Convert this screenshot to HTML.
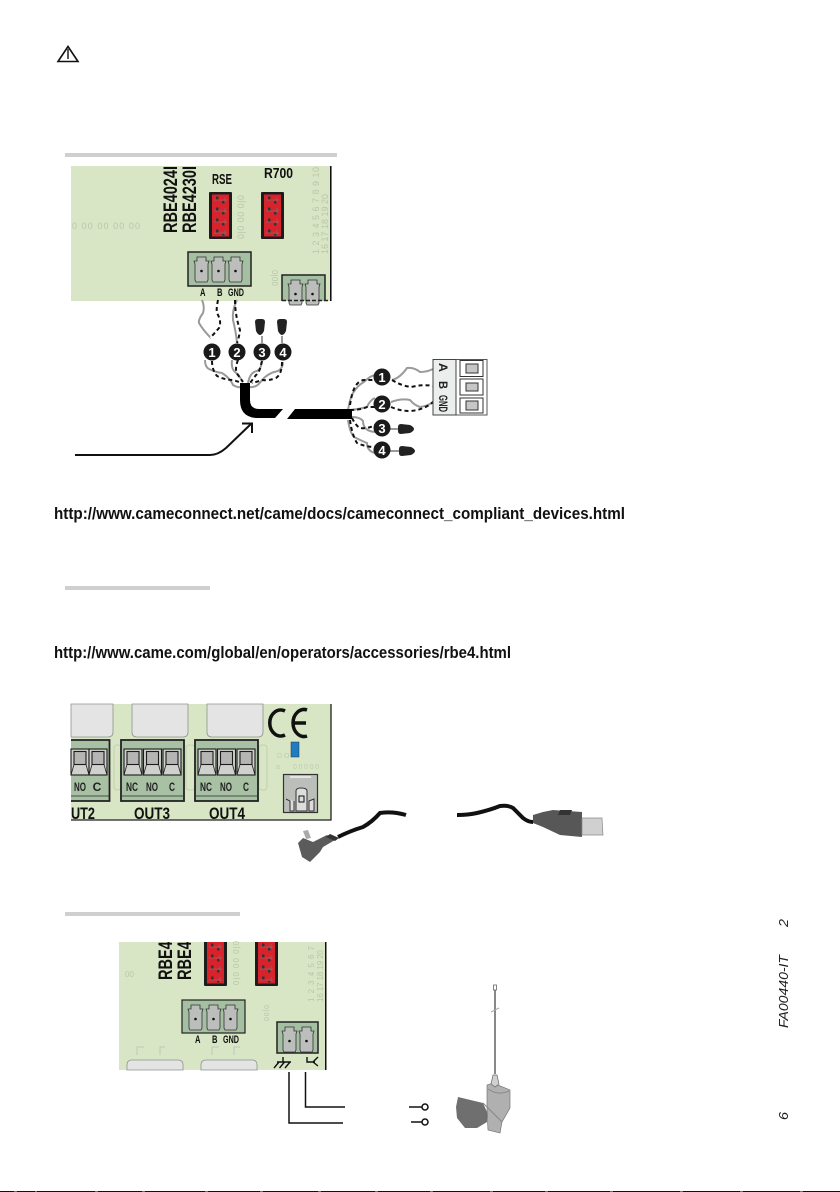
<!DOCTYPE html>
<html><head><meta charset="utf-8"><style>
html,body{margin:0;padding:0;background:#fff}
svg{display:block}
text{font-family:"Liberation Sans",sans-serif}
</style></head><body>
<svg width="840" height="1192" viewBox="0 0 840 1192" xmlns="http://www.w3.org/2000/svg">
<defs>
<clipPath id="c3"><rect x="119" y="942" width="207" height="128"/></clipPath>
<g id="red"><rect x="0" y="0" width="23" height="47" rx="1" fill="#1c1c1c"/><rect x="3" y="2.500" width="17" height="42" fill="#d8222c"/>
<g stroke="#8a6a6a" stroke-width=".7"><path d="M5 8h13M5 19h13M5 30h13M5 41h13M16 5v5M16 16v5M16 27v5M16 38v5"/></g>
<g fill="#333"><rect x="7" y="4.500" width="2.500" height="3"/><rect x="13" y="9" width="2.500" height="2.500"/><rect x="7" y="15.500" width="2.500" height="3"/><rect x="13" y="20" width="2.500" height="2.500"/><rect x="7" y="26.500" width="2.500" height="3"/><rect x="13" y="31" width="2.500" height="2.500"/><rect x="7" y="37.500" width="2.500" height="3"/><rect x="13" y="42" width="2.500" height="1.500"/></g></g>
<g id="pin"><path d="M1 5h3V1h9v4h3l-1 3v16l-1 2H3l-1-2V8z" fill="#bcbebb" stroke="#333" stroke-width=".8"/><circle cx="8.500" cy="15" r="1.300" fill="#111"/></g>
<g id="cell"><rect x="0" y="0" width="18" height="26" fill="#cfd1cc" stroke="#1c1c1c" stroke-width="1.100"/><rect x="3" y="2.500" width="12" height="13" fill="#b5b6b3" stroke="#1c1c1c" stroke-width="1.100"/><path d="M0 26l3-10.500M18 26l-3-10.500" stroke="#222" stroke-width=".8"/></g>
<g id="plug"><path d="M-5 -6 Q-5 -9 -2 -9 H2 Q5 -9 5 -6 L4 3 Q2 7 0 7 Q-2 7 -4 3Z" fill="#222"/></g>
</defs>
<rect width="840" height="1192" fill="#fff"/>

<!-- warning -->
<path d="M68 46.500L58 61.500H78Z" fill="none" stroke="#111" stroke-width="1.600"/><path d="M68 49v10" stroke="#111" stroke-width="1.400"/>

<!-- bars -->
<rect x="65" y="153" width="272" height="4" fill="#cfcfcf"/>
<rect x="65" y="586" width="145" height="4" fill="#cfcfcf"/>
<rect x="65" y="912" width="175" height="4" fill="#cfcfcf"/>

<!-- Board 1 -->
<rect x="71" y="166" width="261" height="135" fill="#d9e6c5"/>
<rect x="330" y="166" width="1.500" height="135" fill="#111"/>
<text transform="translate(177,233) rotate(-90)" font-size="19" font-weight="bold" textLength="67" lengthAdjust="spacingAndGlyphs" fill="#111">RBE4024I</text>
<text transform="translate(196,233) rotate(-90)" font-size="19" font-weight="bold" textLength="67" lengthAdjust="spacingAndGlyphs" fill="#111">RBE4230I</text>
<text x="212" y="184" font-size="15" font-weight="bold" textLength="20" lengthAdjust="spacingAndGlyphs" fill="#111">RSE</text>
<text x="264" y="178" font-size="15" font-weight="bold" textLength="29" lengthAdjust="spacingAndGlyphs" fill="#111">R700</text>
<use href="#red" x="209" y="192"/><use href="#red" x="261" y="192"/>
<g fill="#b8c6aa" font-size="9"><text x="72" y="229" textLength="68" lengthAdjust="spacing">0 00 00 00 00</text>
<text transform="translate(319,254) rotate(-90)" textLength="87">1 2 3 4 5 6 7 8 9 10</text><text transform="translate(328,254) rotate(-90)" textLength="60">16 17 18 19 20</text>
<text transform="translate(244,239) rotate(-90)" textLength="44">0|0 00 0|0</text><text transform="translate(272,270) rotate(90)" font-size="8" textLength="16">0|00</text></g>
<rect x="188" y="252" width="63" height="34" fill="#a5bfa2" stroke="#222" stroke-width="1.500"/>
<use href="#pin" x="193" y="256"/><use href="#pin" x="210" y="256"/><use href="#pin" x="227" y="256"/>
<g font-size="11" font-weight="bold" fill="#111"><text x="200" y="296" textLength="5.500" lengthAdjust="spacingAndGlyphs">A</text><text x="217" y="296" textLength="5.500" lengthAdjust="spacingAndGlyphs">B</text><text x="228" y="296" textLength="16" lengthAdjust="spacingAndGlyphs">GND</text></g>
<path d="M282 301V275H325V301" fill="#a5bfa2" stroke="#222" stroke-width="1.500"/>
<use href="#pin" x="287" y="279"/><use href="#pin" x="304" y="279"/>
<path d="M282 300.500H330" stroke="#222" stroke-width="1.500" stroke-dasharray="4 2"/>

<!-- wires top -->
<g fill="none" stroke="#9a9a9a" stroke-width="2">
<path d="M202 300Q205 307 203 313Q198 320 199 323Q203 330 210 337"/>
<path d="M237 300Q232 310 233 320Q236 332 237 343"/>
<path d="M205 360Q205 367 209 369Q215 372 222 373Q230 378 233 385Q238 388 242 387"/>
<path d="M232 360Q231 367 234 371Q240 376 242 381"/>
<path d="M261 362Q262 368 257 371Q250 372 248 383"/>
<path d="M283 362Q283 368 278 371Q268 373 262 380Q257 388 250 387"/>
<path d="M262 336V343M282 336V343"/>
</g>
<g fill="none" stroke="#111" stroke-width="2" stroke-dasharray="4 3">
<path d="M218 300Q216 310 217 313Q222 322 219 328Q214 334 210 338"/>
<path d="M235 300Q235 315 240 330Q239 338 237 343"/>
<path d="M212 361Q212 370 217 376Q225 380 233 380L242 383"/>
<path d="M238 360Q234 370 238 375L243 382"/>
<path d="M262 361Q260 372 256 375L250 383"/>
<path d="M282 362Q282 374 276 378Q268 381 263 380L252 383"/>
</g>

<!-- right wires -->
<g fill="none" stroke="#9a9a9a" stroke-width="2">
<path d="M348 410Q350 398 353 393Q358 385 364 382Q370 376 375 375"/>
<path d="M350 410Q360 409 367 407Q370 400 375 398"/>
<path d="M352 417Q360 417 363 421Q363 431 375 432"/>
<path d="M348 420Q350 433 354 437Q362 441 367 443Q367 451 375 453"/>
<path d="M392 380Q400 378 407 368Q414 367 420 372Q427 372 433 369"/>
<path d="M391 402Q402 398 410 400Q414 405 420 407Q428 406 433 402"/>
<path d="M390 429H400M390 451H400"/>
</g>
<g fill="none" stroke="#111" stroke-width="2" stroke-dasharray="4 3">
<path d="M350 405Q352 392 355 387Q358 381 364 380L375 380"/>
<path d="M350 410Q360 410 367 407L376 407"/>
<path d="M352 418Q356 426 360 428Q368 429 375 425"/>
<path d="M350 420Q352 435 357 443Q366 447 375 447"/>
<path d="M392 380Q402 386 411 387Q424 384 433 386"/>
<path d="M391 407Q400 411 410 411Q424 410 433 402"/>
</g>

<!-- cable -->
<path d="M240 383H250V400Q250 409 259 409H283L275 418H258Q240 418 240 400Z" fill="#000"/>
<path d="M295 409H352V419H287Z" fill="#000"/>

<!-- numbered circles -->
<g fill="#1a1a1a"><circle cx="212" cy="352" r="8.500"/><circle cx="237" cy="352" r="8.500"/><circle cx="262" cy="352" r="8.500"/><circle cx="283" cy="352" r="8.500"/>
<circle cx="382" cy="377" r="8.500"/><circle cx="382" cy="404" r="8.500"/><circle cx="382" cy="428" r="8.500"/><circle cx="382" cy="450" r="8.500"/></g>
<g fill="#fff" font-size="13" font-weight="bold" text-anchor="middle"><text x="212" y="357">1</text><text x="237" y="357">2</text><text x="262" y="357">3</text><text x="283" y="357">4</text>
<text x="382" y="382">1</text><text x="382" y="409">2</text><text x="382" y="433">3</text><text x="382" y="455">4</text></g>
<use href="#plug" x="260" y="328"/><use href="#plug" x="282" y="328"/>
<use href="#plug" transform="translate(407,429) rotate(-90)"/><use href="#plug" transform="translate(408,451) rotate(-90)"/>

<!-- terminal -->
<rect x="433" y="359.500" width="54" height="55.500" fill="#fff" stroke="#555"/>
<rect x="433" y="359.500" width="23" height="55.500" fill="#eceded" stroke="#444"/>
<g font-size="12" font-weight="bold" fill="#222"><text transform="translate(439,363) rotate(90)" textLength="9" lengthAdjust="spacingAndGlyphs">A</text><text transform="translate(439,381) rotate(90)" textLength="8" lengthAdjust="spacingAndGlyphs">B</text><text transform="translate(439,395) rotate(90)" textLength="17" lengthAdjust="spacingAndGlyphs">GND</text></g>
<g fill="#fff" stroke="#333"><rect x="460" y="360.500" width="23" height="16"/><rect x="460" y="379" width="23" height="16"/><rect x="460" y="398" width="23" height="15"/></g>
<g fill="#c6c6c6" stroke="#333"><rect x="466" y="364" width="12" height="9"/><rect x="466" y="383" width="12" height="8"/><rect x="466" y="401" width="12" height="9"/></g>

<!-- arrow -->
<path d="M75 455H210Q218 455 226 448L252 423" fill="none" stroke="#111" stroke-width="2"/>
<path d="M242 423.500H252V433" fill="none" stroke="#111" stroke-width="2"/>

<!-- URLs -->
<text x="54" y="519" font-size="17" font-weight="bold" fill="#111" textLength="571" lengthAdjust="spacingAndGlyphs">http://www.cameconnect.net/came/docs/cameconnect_compliant_devices.html</text>
<text x="54" y="658" font-size="17" font-weight="bold" fill="#111" textLength="457" lengthAdjust="spacingAndGlyphs">http://www.came.com/global/en/operators/accessories/rbe4.html</text>

<!-- Board 2 -->
<rect x="71" y="704" width="260" height="116" fill="#d9e6c5"/>
<path d="M331 704V820H71" fill="none" stroke="#222" stroke-width="1.300"/>
<g fill="none" stroke="#c3d0b0"><rect x="114" y="745" width="7" height="45" rx="3"/><rect x="186" y="745" width="9" height="45" rx="3"/><rect x="259" y="745" width="8" height="45" rx="3"/></g>
<g fill="#e4e4e4" stroke="#8d938a" stroke-width=".8"><path d="M71 704H113V732Q113 737 108 737H71Z"/><path d="M132 704H188V732Q188 737 183 737H137Q132 737 132 732Z"/><path d="M207 704H263V732Q263 737 258 737H212Q207 737 207 732Z"/></g>
<path d="M71 740H109.500V801H71" fill="#a8c1a4" stroke="#222" stroke-width="1.800"/>
<rect x="121" y="740" width="63" height="61" fill="#a8c1a4" stroke="#222" stroke-width="1.800"/>
<rect x="195" y="740" width="63" height="61" fill="#a8c1a4" stroke="#222" stroke-width="1.800"/>
<path d="M71 796H109M122 796H183M196 796H257" stroke="#2a2a2a" stroke-width=".8"/>
<use href="#cell" x="71" y="749"/><use href="#cell" x="89" y="749"/>
<use href="#cell" x="124" y="749"/><use href="#cell" x="143.500" y="749"/><use href="#cell" x="163" y="749"/>
<use href="#cell" x="198" y="749"/><use href="#cell" x="217.500" y="749"/><use href="#cell" x="237" y="749"/>
<g font-size="12" font-weight="bold" fill="#222" text-anchor="middle"><text x="80" y="791" textLength="12" lengthAdjust="spacingAndGlyphs">NO</text><text x="97" y="791">C</text>
<text x="132" y="791" textLength="12" lengthAdjust="spacingAndGlyphs">NC</text><text x="152" y="791" textLength="12" lengthAdjust="spacingAndGlyphs">NO</text><text x="172" y="791" textLength="6" lengthAdjust="spacingAndGlyphs">C</text>
<text x="206" y="791" textLength="12" lengthAdjust="spacingAndGlyphs">NC</text><text x="226" y="791" textLength="12" lengthAdjust="spacingAndGlyphs">NO</text><text x="246" y="791" textLength="6" lengthAdjust="spacingAndGlyphs">C</text></g>
<g font-size="17" font-weight="bold" fill="#111"><text x="71" y="819" textLength="24" lengthAdjust="spacingAndGlyphs">UT2</text><text x="134" y="819" textLength="36" lengthAdjust="spacingAndGlyphs">OUT3</text><text x="209" y="819" textLength="36" lengthAdjust="spacingAndGlyphs">OUT4</text></g>
<path d="M285 711A11 13 0 1 0 285 735" fill="none" stroke="#111" stroke-width="3.500"/>
<path d="M307 710A11 13.500 0 1 0 307 736M294 723H306" fill="none" stroke="#111" stroke-width="3.500"/>
<rect x="291" y="742" width="8" height="15" fill="#1f7cc0" stroke="#234" stroke-width=".5"/>
<g fill="#bfcbb0" font-size="7"><text x="277" y="758">D  O</text><text x="293" y="769" textLength="26">00000</text><text x="276" y="769">a</text></g>
<rect x="283.500" y="774.500" width="34" height="38" fill="#bcbeba" stroke="#333" stroke-width="1.200"/>
<path d="M290 777H311" stroke="#e4e4e4" stroke-width="2"/>
<path d="M296 791Q296 788 301 788Q307 788 307 791V811H296Z" fill="#ddd" stroke="#333"/>
<path d="M286 799L290 801V811H294V801M309 811V801L314 799V811Z" fill="#ddd" stroke="#333"/>
<rect x="299" y="796" width="5" height="6" fill="none" stroke="#111"/>

<!-- USB cables -->
<path d="M338 837Q350 831 363 827Q372 822 380 813Q392 811 406 815" fill="none" stroke="#111" stroke-width="4"/>
<path d="M457 815Q468 815 477 813Q490 810 500 806Q508 805 513 808Q520 815 523 818Q528 822 533 822" fill="none" stroke="#111" stroke-width="4"/>
<path d="M298 843L303 838L313 842L327 835L335 840L323 847L320 852L310 862L302 857Z" fill="#5a5b5a"/>
<path d="M303 831L308 830L311 838L306 839Z" fill="#aaa"/>
<path d="M330 834L339 838L335 841L326 837Z" fill="#333"/>
<path d="M533 815L543 812L553 810L582 812V837L560 835L543 827L533 823Z" fill="#565756"/>
<path d="M582 818L602 818L603 835L582 835Z" fill="#cfd0cf" stroke="#888" stroke-width=".7"/>
<path d="M560 810L572 810L570 815L558 815Z" fill="#333"/>

<!-- Board 3 -->
<rect x="119" y="942" width="207" height="128" fill="#d9e6c5"/>
<rect x="325" y="942" width="1.500" height="128" fill="#111"/>
<g clip-path="url(#c3)"><text transform="translate(172,980) rotate(-90)" font-size="19" font-weight="bold" textLength="67" lengthAdjust="spacingAndGlyphs" fill="#111">RBE4024I</text>
<text transform="translate(191,980) rotate(-90)" font-size="19" font-weight="bold" textLength="67" lengthAdjust="spacingAndGlyphs" fill="#111">RBE4230I</text>
<use href="#red" x="204" y="939"/><use href="#red" x="255" y="939"/></g>
<g fill="#b8c6aa" font-size="8"><text transform="translate(314,1002) rotate(-90)" textLength="56">1 2 3 4 5 6 7</text><text transform="translate(323,1002) rotate(-90)" textLength="52">16 17 18 19 20</text><text x="125" y="977">00</text>
<text transform="translate(239,985) rotate(-90)" textLength="44">0|0 00 0|0</text><text transform="translate(264,1005) rotate(90)" font-size="7" textLength="16">0|00</text></g>
<rect x="182" y="1000" width="63" height="33" fill="#a5bfa2" stroke="#222" stroke-width="1.200"/>
<use href="#pin" x="187" y="1004"/><use href="#pin" x="205" y="1004"/><use href="#pin" x="222" y="1004"/>
<g font-size="11" font-weight="bold" fill="#111"><text x="195" y="1043" textLength="5.500" lengthAdjust="spacingAndGlyphs">A</text><text x="212" y="1043" textLength="5.500" lengthAdjust="spacingAndGlyphs">B</text><text x="223" y="1043" textLength="16" lengthAdjust="spacingAndGlyphs">GND</text></g>
<rect x="277" y="1022" width="41" height="31" fill="#a5bfa2" stroke="#222" stroke-width="1.500"/>
<use href="#pin" x="281" y="1026"/><use href="#pin" x="298" y="1026"/>
<g fill="#e4e4e4" stroke="#8d938a" stroke-width=".8"><path d="M127 1070V1065Q127 1060 132 1060H178Q183 1060 183 1065V1070Z"/><path d="M201 1070V1065Q201 1060 206 1060H252Q257 1060 257 1065V1070Z"/></g>
<g fill="none" stroke="#c0c8b2"><path d="M137 1055V1047H144M160 1055V1047H165M212 1055V1047H219M234 1055V1047H240"/></g>
<path d="M283 1057V1062M277 1062H291M274 1068L279 1062M279.500 1068L284.500 1062M285 1068L290 1062M307 1057V1062H315M318 1057L313 1062L318 1066" fill="none" stroke="#111" stroke-width="1.400"/>

<!-- antenna wires -->
<path d="M289 1072V1123H343" fill="none" stroke="#111" stroke-width="1.500"/>
<path d="M305.500 1072V1107H345" fill="none" stroke="#111" stroke-width="1.500"/>
<path d="M409 1107H422M411 1122H422" stroke="#111" stroke-width="1.500"/>
<circle cx="425" cy="1107" r="3" fill="#fff" stroke="#111" stroke-width="1.500"/>
<circle cx="425" cy="1122" r="3" fill="#fff" stroke="#111" stroke-width="1.500"/>

<!-- antenna -->
<path d="M495 989V1074" stroke="#888" stroke-width="2"/>
<rect x="493.500" y="985" width="3" height="5" fill="#fff" stroke="#666" stroke-width=".8"/>
<path d="M491 1012L499 1008" stroke="#aaa"/>
<path d="M458 1097L483 1103L487 1112V1122L477 1128H465L457 1118L456 1107Z" fill="#6f6f6f"/>
<path d="M487 1085L493 1083L510 1090V1108L502 1122L500 1133L488 1130L487 1110Z" fill="#b0b0b0" stroke="#666" stroke-width=".6"/>
<path d="M491 1084L493 1075H497L499 1084L495 1087Z" fill="#d0d0d0" stroke="#666" stroke-width=".7"/>
<path d="M488 1089Q498 1096 509 1091M483 1103L502 1122" fill="none" stroke="#888"/>

<!-- side text -->
<g font-size="13" fill="#222" font-style="italic"><text transform="translate(788,927) rotate(-90)" textLength="8" lengthAdjust="spacingAndGlyphs">2</text><text transform="translate(788,1028) rotate(-90)" textLength="73" lengthAdjust="spacingAndGlyphs">FA00440-IT</text><text transform="translate(788,1120) rotate(-90)" textLength="8" lengthAdjust="spacingAndGlyphs">6</text></g>

<!-- bottom strip -->
<rect x="0" y="1191" width="840" height="1" fill="#111"/>
<path d="M14 1191.500h3M35 1191.500h2M95 1191.500h3M142 1191.500h3M205 1191.500h3M260 1191.500h3M318 1191.500h3M375 1191.500h3M430 1191.500h3M490 1191.500h3M545 1191.500h3M610 1191.500h3M680 1191.500h3M740 1191.500h3M800 1191.500h3" stroke="#387" stroke-width="1"/>
</svg>
</body></html>
